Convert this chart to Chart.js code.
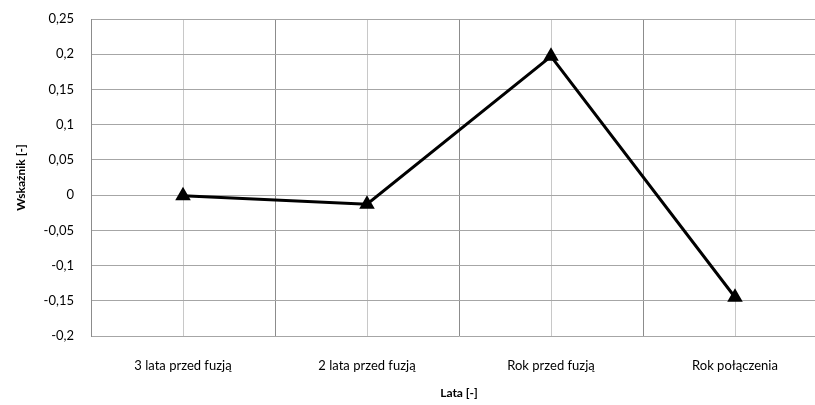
<!DOCTYPE html>
<html>
<head>
<meta charset="utf-8">
<script src="https://cdn.jsdelivr.net/npm/chart.js@4/dist/chart.umd.min.js"></script>
<style>
    html, body { margin: 0; padding: 0; background: #fff; overflow: hidden; }
    #box { width: 836px; height: 405px; }
</style>
</head>
<body>
<div id="box"><canvas id="chart"></canvas></div>
<script>
const categories = ["3 lata przed fuzją", "2 lata przed fuzją", "Rok przed fuzją", "Rok połączenia"];
const values = [-0.001, -0.013, 0.197, -0.145];
const yMin = -0.2;
const yMax = 0.25;
const yStep = 0.05;

const fontFamily = "Lato, 'Open Sans', sans-serif";

function formatTick(value) {
    const rounded = Math.round(value * 100) / 100;
    return String(rounded).replace(".", ",");
}

new Chart(document.getElementById("chart").getContext("2d"), {
    type: "line",
    data: {
        labels: categories,
        datasets: [{
            data: values,
            borderColor: "#000",
            backgroundColor: "#000",
            borderWidth: 3,
            pointStyle: "triangle",
            pointRadius: 6,
            pointHoverRadius: 6,
            tension: 0,
            xAxisID: "x",
        }],
    },
    options: {
        responsive: true,
        maintainAspectRatio: false,
        animation: false,
        layout: { padding: { top: 19, right: 3, left: 14, bottom: 0 } },
        plugins: {
            legend: { display: false },
            tooltip: { enabled: false },
        },
        scales: {
            x: {
                type: "category",
                offset: true,
                grid: { offset: true, color: "#8c8c8c", lineWidth: 1, drawTicks: false },
                border: { display: false },
                ticks: { color: "#000", font: { family: fontFamily, size: 13 }, padding: 22, maxRotation: 0 },
                title: {
                    display: true,
                    text: "Lata [-]",
                    color: "#000",
                    font: { family: fontFamily, size: 12, weight: "bold" },
                    padding: { top: -10, bottom: 5 },
                },
            },
            xCenter: {
                type: "category",
                labels: categories,
                position: "bottom",
                offset: true,
                grid: { offset: false, color: "#c8c8c8", lineWidth: 1, drawTicks: false },
                border: { display: false },
                ticks: { display: false },
                afterFit(scale) { scale.height = 0; },
            },
            y: {
                min: yMin,
                max: yMax,
                grid: { color: "#a6a6a6", lineWidth: 1, drawTicks: false },
                border: { color: "#8c8c8c", width: 1 },
                ticks: {
                    stepSize: yStep,
                    color: "#000",
                    padding: 17,
                    font: { family: fontFamily, size: 13 },
                    callback: formatTick,
                },
                title: {
                    display: true,
                    text: "Wskaźnik [-]",
                    color: "#000",
                    font: { family: fontFamily, size: 12, weight: "bold" },
                    padding: { top: 0, bottom: 12 },
                },
                afterFit(scale) {
                    scale.width = 77;
                    scale.paddingTop = 0;
                },
            },
        },
    },
});
</script>
</body>
</html>
